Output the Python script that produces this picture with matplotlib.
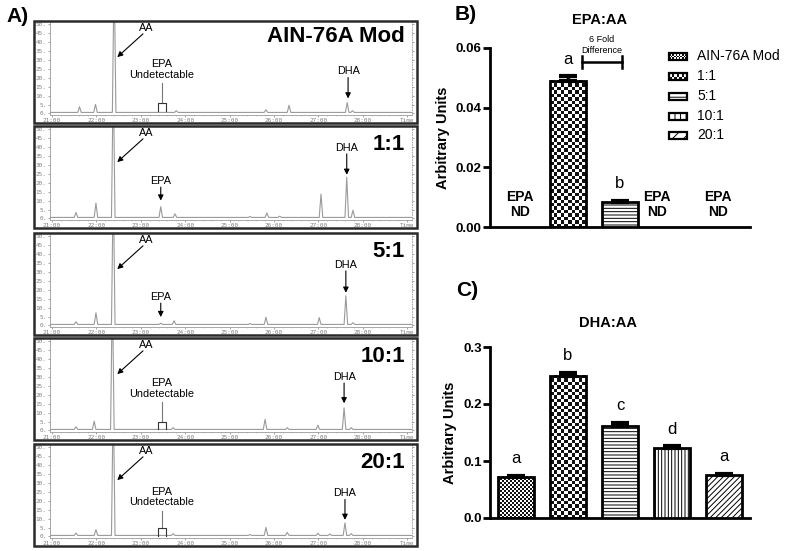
import numpy as np
import matplotlib.pyplot as plt
from matplotlib.patches import Rectangle
from matplotlib.colors import ListedColormap

plt.rcParams['font.family'] = ['Liberation Sans', 'DejaVu Sans']
plt.rcParams['hatch.linewidth'] = 0.7

W, H = 787, 551

# ---- chromatograms: peak retention time (min) and height (mV) for each diet
diets = ["AIN-76A Mod", "1:1", "5:1", "10:1", "20:1"]
ain_t = [21.62, 21.98, 22.40, 23.80, 25.82, 26.34, 27.65, 27.77]
ain_h = [3.2, 4.5, 80, 1.0, 1.5, 4.0, 5.5, 1.0]
r1_t = [21.54, 21.99, 22.38, 23.45, 23.77, 25.46, 25.84, 26.13, 27.06, 27.64, 27.78]
r1_h = [2.8, 8.0, 80, 6.0, 2.0, 0.5, 2.5, 0.7, 13.0, 22.5, 4.0]
r5_t = [21.54, 21.99, 22.38, 23.45, 23.75, 25.46, 25.82, 27.02, 27.62, 27.78]
r5_h = [1.5, 6.5, 80, 0.7, 2.0, 0.5, 4.0, 3.8, 16.0, 1.0]
r10_t = [21.54, 21.95, 22.36, 23.73, 25.80, 26.30, 26.99, 27.58, 27.74]
r10_h = [1.5, 4.6, 80, 1.0, 5.6, 1.0, 2.4, 12.0, 1.0]
r20_t = [21.54, 21.99, 22.38, 23.73, 25.46, 25.82, 26.30, 26.99, 27.26, 27.60, 27.74]
r20_h = [1.3, 3.2, 80, 1.0, 0.5, 4.5, 1.7, 1.2, 0.8, 7.0, 1.0]
baseline = 0.6
peak_times = [ain_t, r1_t, r5_t, r10_t, r20_t]
peak_heights = [ain_h, r1_h, r5_h, r10_h, r20_h]

# annotation anchors per panel
epa_detected = [False, True, True, False, False]
epa_text_y = [24.5, 21.0, 16.0, 23.5, 22.0]
epa_head_y = [None, 10.0, 4.7, None, None]
bracket_top = [5.6, None, None, 5.0, 4.5]
dha_x = [27.67, 27.64, 27.62, 27.58, 27.60]
dha_text_y = [23.6, 39.6, 34.0, 30.0, 24.2]
dha_head_y = [8.4, 24.4, 18.3, 15.2, 9.3]
time_ticks = [21, 22, 23, 24, 25, 26, 27, 28, 29]
time_labels = ["21:00", "22:00", "23:00", "24:00", "25:00", "26:00", "27:00", "28:00", "Time"]

# ---- ratio bar charts
epa_aa = [None, 0.049, 0.0083, None, None]
epa_aa_err = [0, 0.0015, 0.0004, 0, 0]
epa_letters = ["", "a", "b", "", ""]
dha_aa = [0.072, 0.250, 0.162, 0.122, 0.075]
dha_aa_err = [0.002, 0.004, 0.0045, 0.0035, 0.002]
dha_letters = ["a", "b", "c", "d", "a"]

PATTERNS = ["fine", "checker", "-----", "|||||", "//////"]
CELL = {"fine": 2.0, "checker": 3.4}
BW = 0.68


def px_axes(fig, l, t, r, b):
    return fig.add_axes([l / W, 1 - b / H, (r - l) / W, (b - t) / H])


def checker(ax, x0, x1, y0, y1, cell, z=2):
    p0 = ax.transData.transform((x0, y0))
    p1 = ax.transData.transform((x1, y1))
    nx = max(1, int(round(abs(p1[0] - p0[0]) / cell)))
    ny = max(1, int(round(abs(p1[1] - p0[1]) / cell)))
    arr = np.add.outer(np.arange(ny), np.arange(nx)) % 2
    ax.imshow(arr, extent=(x0, x1, y0, y1), cmap=ListedColormap(["#111111", "white"]),
              interpolation="nearest", aspect="auto", origin="lower", zorder=z)


fig = plt.figure(figsize=(W / 100, H / 100), dpi=100)

# ---------------- panel A: chromatograms
tops = [21, 126, 233, 338, 444]
for k, top in enumerate(tops):
    ax = px_axes(fig, 50, top + 0.5, 412, top + 94)
    ax.set_xlim(20.955, 29.11)
    ax.set_ylim(-0.84, 51.4)
    order = np.argsort(peak_times[k])
    tx, ty = [20.9], [baseline]
    for j in order:
        t, h = peak_times[k][j], peak_heights[k][j]
        tx += [t - 0.04, t, t + 0.04]
        ty += [baseline, baseline + h, baseline]
    tx.append(29.2); ty.append(baseline)
    ax.plot(tx, ty, color="#9a9a9a", lw=0.8)

    ax.set_yticks(range(0, 51, 5))
    ax.set_yticklabels([f"{v}." for v in range(0, 51, 5)])
    ax.set_xticks(time_ticks)
    ax.set_xticklabels(time_labels)
    ax.set_xticks(np.arange(21, 29.01, 0.2), minor=True)
    ax.tick_params(labelsize=4.3, colors="#808080", length=1.5, width=0.5, pad=1)
    ax.tick_params(which="minor", length=1, width=0.4, colors="#aaaaaa")
    ax.tick_params(axis="y", right=True, which="both")
    for lab in ax.get_xticklabels() + ax.get_yticklabels():
        lab.set_family("DejaVu Sans Mono")
    ax.spines["top"].set_visible(False)
    for s in ("left", "bottom", "right"):
        ax.spines[s].set_color("#9a9a9a")
        ax.spines[s].set_linewidth(0.6)
    ax.spines["right"].set_linestyle((0, (1, 2)))

    # AA
    ax.text(23.12, 48, "AA", fontsize=7.8, ha="center", va="center")
    ax.annotate("", xy=(22.47, 31.5), xytext=(23.05, 44.5),
                arrowprops=dict(arrowstyle="-|>", color="black", lw=0.8,
                                mutation_scale=8, shrinkA=0, shrinkB=0))
    # EPA
    if epa_detected[k]:
        ax.text(23.45, epa_text_y[k], "EPA", fontsize=7.8, ha="center", va="center")
        ax.annotate("", xy=(23.45, epa_head_y[k]), xytext=(23.45, epa_text_y[k] - 3.5),
                    arrowprops=dict(arrowstyle="-|>", color="black", lw=0.8,
                                    mutation_scale=8, shrinkA=0, shrinkB=0))
    else:
        ax.text(23.47, epa_text_y[k], "EPA\nUndetectable", fontsize=7.8, ha="center",
                va="center", linespacing=1.05)
        bt = bracket_top[k]
        ax.plot([23.47, 23.47], [epa_text_y[k] - 7.5, bt], color="#777777", lw=0.8)
        ax.plot([23.38, 23.38, 23.56, 23.56], [bt - 4, bt, bt, bt - 4], color="#333333", lw=0.8)
    # DHA
    ax.text(dha_x[k], dha_text_y[k], "DHA", fontsize=7.8, ha="center", va="center")
    ax.annotate("", xy=(dha_x[k], dha_head_y[k]), xytext=(dha_x[k], dha_text_y[k] - 3.5),
                arrowprops=dict(arrowstyle="-|>", color="black", lw=0.8,
                                mutation_scale=8, shrinkA=0, shrinkB=0))
    ax.text(28.95, 43 if k == 0 else 41.5, diets[k], fontsize=16, fontweight="bold",
            ha="right", va="center")


# ---------------- panels B and C: ratio bars
def bar_panel(top, bottom, vals, errs, letters, ymax, ticks, fmt):
    ax = px_axes(fig, 490, top, 750, bottom)
    ax.set_xlim(0.5, 5.5)
    ax.set_ylim(0, ymax)
    for i, (v, e) in enumerate(zip(vals, errs)):
        if v is None:
            continue
        x = i + 1
        pat = PATTERNS[i]
        if pat in CELL:
            checker(ax, x - BW / 2, x + BW / 2, 0, v, CELL[pat])
            ax.bar(x, v, BW, facecolor="none", edgecolor="black", lw=2, zorder=3)
        else:
            ax.bar(x, v, BW, facecolor="white", edgecolor="black", hatch=pat, lw=2, zorder=3)
        ax.errorbar(x, v, yerr=[[0], [e]], fmt="none", ecolor="black", elinewidth=2.5,
                    capsize=6.5, capthick=3, zorder=4)
        if letters[i]:
            ax.annotate(letters[i], (x, v + e), xytext=(0, 7), textcoords="offset points",
                        ha="center", va="bottom", fontsize=12)
    ax.set_yticks(ticks)
    ax.set_yticklabels([fmt.format(t) for t in ticks], fontweight="bold", fontsize=9.5)
    ax.set_xticks([])
    for s in ("top", "right"):
        ax.spines[s].set_visible(False)
    for s in ("left", "bottom"):
        ax.spines[s].set_linewidth(2)
    ax.tick_params(axis="y", length=5, width=2, pad=1)
    ax.set_ylabel("Arbitrary Units", fontsize=10.5, fontweight="bold", labelpad=4)
    return ax


axB = bar_panel(48, 227, epa_aa, epa_aa_err, epa_letters, 0.06, [0, 0.02, 0.04, 0.06], "{:.2f}")
for x in (1.08, 3.71, 4.88):
    axB.text(x, 0.0075, "EPA\nND", fontsize=10, fontweight="bold", ha="center",
             va="center", linespacing=1.1)
axB.plot([2.27, 3.04], [0.0553, 0.0553], color="black", lw=1.8, clip_on=False)
for xe in (2.27, 3.04):
    axB.plot([xe, xe], [0.0533, 0.0573], color="black", lw=1.8, clip_on=False)
axB.text(2.65, 0.0628, "6 Fold", fontsize=6.5, ha="center", va="center", clip_on=False)
axB.text(2.65, 0.0592, "Difference", fontsize=6.5, ha="center", va="center", clip_on=False)

axC = bar_panel(347, 518, dha_aa, dha_aa_err, dha_letters, 0.3, [0, 0.1, 0.2, 0.3], "{:.1f}")

# ---------------- overlay: frames, panel labels, titles, legend
ov = fig.add_axes([0, 0, 1, 1], zorder=10)
ov.set_xlim(0, W)
ov.set_ylim(H, 0)
ov.axis("off")
ov.patch.set_alpha(0)
for top in tops:
    ov.add_patch(Rectangle((34, top), 383, 102, fill=False, edgecolor="#2a2a2a", lw=1.8))
ov.text(18, 17, "A)", fontsize=15, fontweight="bold", ha="center", va="center")
ov.text(466, 14, "B)", fontsize=15, fontweight="bold", ha="center", va="center")
ov.text(467, 290, "C)", fontsize=15, fontweight="bold", ha="center", va="center")
ov.text(600, 20, "EPA:AA", fontsize=10.5, fontweight="bold", ha="center", va="center")
ov.text(608, 323, "DHA:AA", fontsize=10.5, fontweight="bold", ha="center", va="center")

leg_y = [56, 76, 96, 116, 135]
for i, yc in enumerate(leg_y):
    x0, x1, y0, y1 = 669, 687, yc + 3.5, yc - 3.5
    pat = PATTERNS[i]
    if pat in CELL:
        checker(ov, x0, x1, y0, y1, CELL[pat] * 0.8, z=11)
        ov.add_patch(Rectangle((x0, y1), x1 - x0, y0 - y1, fill=False, edgecolor="black",
                               lw=1.6, zorder=12))
    else:
        ov.add_patch(Rectangle((x0, y1), x1 - x0, y0 - y1, facecolor="white",
                               edgecolor="black", hatch=pat[:3], lw=1.6, zorder=12))
    ov.text(697, yc, diets[i], fontsize=10, ha="left", va="center")
ov.set_xlim(0, W)
ov.set_ylim(H, 0)

fig.savefig("out.png", dpi=100, facecolor="white")
